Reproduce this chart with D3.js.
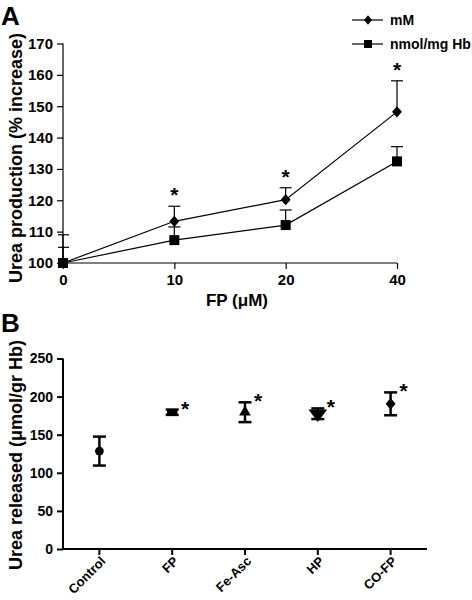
<!DOCTYPE html>
<html><head><meta charset="utf-8">
<script src="https://cdn.jsdelivr.net/npm/d3@7"></script>
<style>body{margin:0;background:#fff}svg{display:block;font-family:"Liberation Sans",Arial,sans-serif;font-weight:bold}</style>
</head><body>
<svg id="c" width="472" height="600"></svg>
<script>
// Panel A data
const doseLabels = ["0", "10", "20", "40"];
const mM = [100, 113.3, 120.2, 148.2];
const mMErr = [9, 4.8, 3.8, 9.9];
const nmol = [100, 107.3, 112.1, 132.4];
const nmolErr = [5, 4.2, 4.8, 4.7];
const sigA = [false, true, true, true];
const yTicksA = [100, 110, 120, 130, 140, 150, 160, 170];
// Panel B data
const groups = ["Control", "FP", "Fe-Asc", "HP", "CO-FP"];
const released = [128.5, 179.5, 179.5, 177.5, 190.5];
const releasedErr = [19, 3.5, 13, 7, 15];
const sigB = [false, true, true, true, true];
const shapesB = ["circle", "square", "triangleUp", "triangleDown", "diamond"];
const yTicksB = [0, 50, 100, 150, 200, 250];

const svg = d3.select("#c");
const FONT = "Liberation Sans, Arial, sans-serif";

// ---------- Panel A ----------
const xA = d3.scalePoint().domain(doseLabels).range([63, 397]);
const yA = d3.scaleLinear().domain([100, 170]).range([263, 43.5]);
const gA = svg.append("g");

gA.append("text").attr("x", 1).attr("y", 25).attr("font-size", 26).text("A");

const axLA = gA.append("g").attr("transform", "translate(63,0)")
  .call(d3.axisLeft(yA).tickValues(yTicksA).tickSize(6).tickPadding(4).tickFormat(d3.format("d")));
const axBA = gA.append("g").attr("transform", "translate(0,263)")
  .call(d3.axisBottom(xA).tickSize(6).tickPadding(5));
[axLA, axBA].forEach(a => {
  a.selectAll("text").attr("font-size", 15).attr("font-family", FONT).attr("font-weight", "bold").attr("fill", "#000");
  a.selectAll("line,path").attr("stroke", "#000").attr("stroke-width", 1.2);
  a.select(".domain").attr("d", a === axLA ? "M0,263.5V43.5" : "M63,0H397");
});

gA.append("text").attr("transform", "translate(22,158) rotate(-90)").attr("text-anchor", "middle")
  .attr("font-size", 18).text("Urea production (% increase)");
gA.append("text").attr("x", 237).attr("y", 306).attr("text-anchor", "middle").attr("font-size", 17)
  .text("FP (μM)");

const lineA = d3.line().x((d, i) => xA(doseLabels[i])).y(d => yA(d));
const diamond = d3.symbol().type(d3.symbolDiamond).size(70);
const square = d3.symbol().type(d3.symbolSquare).size(100);

function errUp(g, vals, errs, capW) {
  vals.forEach((v, i) => {
    const x = xA(doseLabels[i]);
    g.append("line").attr("x1", x).attr("x2", x).attr("y1", yA(v)).attr("y2", yA(v + errs[i])).attr("stroke", "#000").attr("stroke-width", 1.2);
    g.append("line").attr("x1", x - capW / 2 + (i === 0 ? 1 : 0)).attr("x2", x + capW / 2).attr("y1", yA(v + errs[i])).attr("y2", yA(v + errs[i])).attr("stroke", "#000").attr("stroke-width", 1.2);
  });
}
errUp(gA, mM, mMErr, 12);
errUp(gA, nmol, nmolErr, 12);
gA.append("path").datum(mM).attr("d", lineA).attr("fill", "none").attr("stroke", "#000").attr("stroke-width", 1.2);
gA.append("path").datum(nmol).attr("d", lineA).attr("fill", "none").attr("stroke", "#000").attr("stroke-width", 1.2);
mM.forEach((v, i) => gA.append("path").attr("d", diamond).attr("transform", `translate(${xA(doseLabels[i])},${yA(v)}) scale(1.1,0.72)`).attr("fill", "#000"));
nmol.forEach((v, i) => gA.append("path").attr("d", square).attr("transform", `translate(${xA(doseLabels[i])},${yA(v)})`).attr("fill", "#000"));
mM.forEach((v, i) => {
  if (sigA[i]) gA.append("text").attr("x", xA(doseLabels[i])).attr("y", yA(v + mMErr[i]) - 4).attr("text-anchor", "middle").attr("font-size", 21).text("*");
});

// legend
const legA = [["mM", diamond, 20, "scale(0.9,0.6)"], ["nmol/mg Hb", square, 44, "scale(0.8)"]];
legA.forEach(([lab, sym, y, sc]) => {
  gA.append("line").attr("x1", 352).attr("x2", 383).attr("y1", y).attr("y2", y).attr("stroke", "#000").attr("stroke-width", 1.2);
  gA.append("path").attr("d", sym).attr("transform", `translate(368,${y}) ${sc}`).attr("fill", "#000");
  gA.append("text").attr("x", 390).attr("y", y + 5).attr("font-size", 14).text(lab);
});

// ---------- Panel B ----------
const xB = d3.scaleBand().domain(groups).range([63, 427]).padding(0);
const yB = d3.scaleLinear().domain([0, 250]).range([549, 358.5]);
const gB = svg.append("g");
gB.append("text").attr("x", 1).attr("y", 332).attr("font-size", 26).text("B");

const axLB = gB.append("g").attr("transform", "translate(63,0)")
  .call(d3.axisLeft(yB).tickValues(yTicksB).tickSize(6).tickPadding(4));
const axBB = gB.append("g").attr("transform", "translate(0,549)")
  .call(d3.axisBottom(xB).tickSize(6).tickPadding(4));
[axLB, axBB].forEach(a => {
  a.selectAll("text").attr("font-size", 14).attr("font-family", FONT).attr("font-weight", "bold").attr("fill", "#000");
  a.selectAll("line,path").attr("stroke", "#000").attr("stroke-width", 2);
});
axLB.select(".domain").attr("d", "M0,550V358.5");
axBB.select(".domain").attr("d", "M62,0H427");
axBB.selectAll(".tick text").attr("text-anchor", "end").attr("y", 0).attr("dy", 0)
  .attr("transform", "translate(7,13) rotate(-45)").attr("font-size", 13);

gB.append("text").attr("transform", "translate(22,455) rotate(-90)").attr("text-anchor", "middle")
  .attr("font-size", 18).text("Urea released (μmol/gr Hb)");

const symMap = {
  circle: d3.symbol().type(d3.symbolCircle).size(60),
  square: d3.symbol().type(d3.symbolSquare).size(64),
  triangleUp: d3.symbol().type(d3.symbolTriangle).size(60),
  triangleDown: d3.symbol().type(d3.symbolTriangle).size(90),
  diamond: d3.symbol().type(d3.symbolDiamond).size(70)
};
groups.forEach((g, i) => {
  const x = xB(g) + xB.bandwidth() / 2;
  const v = released[i], e = releasedErr[i];
  gB.append("line").attr("x1", x).attr("x2", x).attr("y1", yB(v - e)).attr("y2", yB(v + e)).attr("stroke", "#000").attr("stroke-width", 2.5);
  [v - e, v + e].forEach(t => gB.append("line").attr("x1", x - 6.5).attr("x2", x + 6.5).attr("y1", yB(t)).attr("y2", yB(t)).attr("stroke", "#000").attr("stroke-width", 2.5));
  const rot = shapesB[i] === "triangleDown" ? " rotate(180)" : "";
  const sc = shapesB[i] === "square" ? " scale(1.3,0.8)" :
    (shapesB[i] === "triangleDown" ? " scale(1.3,1)" : (shapesB[i] === "diamond" ? " scale(1.1,0.75)" : ""));
  gB.append("path").attr("d", symMap[shapesB[i]]).attr("transform", `translate(${x},${yB(v)})${rot}${sc}`).attr("fill", "#000");
  if (sigB[i]) gB.append("text").attr("x", x + 13).attr("y", yB(v + e) + 6).attr("text-anchor", "middle").attr("font-size", 21).text("*");
});
</script>
</body></html>
